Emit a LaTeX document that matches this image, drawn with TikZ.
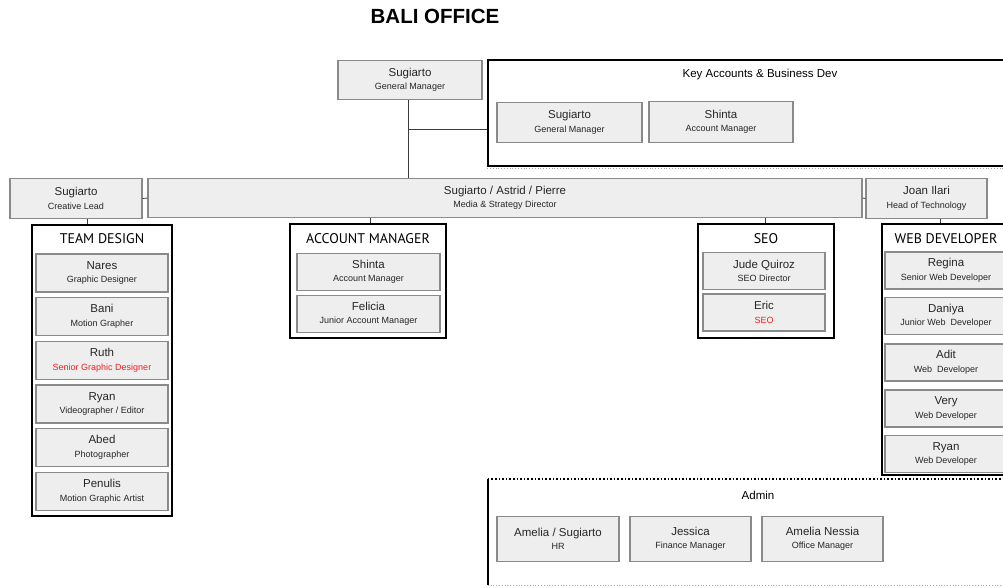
\documentclass[tikz,border=0pt]{standalone}
\usepackage{fontspec}
\setmainfont{Liberation Sans}
\newfontfamily\headfont{PT Sans}
\definecolor{boxfill}{HTML}{EEEEEE}
\definecolor{boxline}{HTML}{8A8A8A}
\definecolor{linkgray}{HTML}{3C3C3C}
\definecolor{rolered}{HTML}{FF1A1A}
\newcommand{\who}[2]{#1\\{\fontsize{9}{10}\selectfont #2}}
\tikzset{
  staff/.style={draw=boxline, fill=boxfill, line width=1.2pt, align=center,
    inner sep=0pt, text=black!85, font=\fontsize{11.5}{13.5}\selectfont},
  group/.style={draw=black, line width=1.6pt, inner sep=0pt},
  grouptitle/.style={font=\headfont\fontsize{14}{16}\selectfont},
  link/.style={draw=linkgray, line width=0.8pt},
  pagebreak/.style={draw=black!35, dotted, line width=0.8pt},
}
\begin{document}
\begin{tikzpicture}[x=1pt,y=-1pt]
   \useasboundingbox (0,0) rectangle (1003,587);
   \clip (0,0) rectangle (1003,587);
   \node[font=\bfseries\fontsize{20.5}{24}\selectfont] (title) at (435,16) {BALI OFFICE};

   % top
   \node[staff, minimum width=144pt, minimum height=39pt] (gm) at (410,80) {\who{Sugiarto}{General Manager}};
   \node[group, minimum width=544pt, minimum height=106pt] (keyacc) at (760,113) {};
   \node[font=\fontsize{11.5}{13.5}\selectfont] (keytitle) at (760,74.5) {Key Accounts \& Business Dev};
   \node[staff, minimum width=145pt, minimum height=40pt] (kgm) at (569.5,122.5) {\who{Sugiarto}{General Manager}};
   \node[staff, minimum width=144pt, minimum height=41pt] (kshinta) at (721,122) {\who{Shinta}{Account Manager}};
   \draw[pagebreak] ([yshift=-2pt]keyacc.south west) -- ([yshift=-2pt]keyacc.south east);

   % directors
   \node[staff, minimum width=132pt, minimum height=40pt] (creative) at (76,198.5) {\who{Sugiarto}{Creative Lead}};
   \node[staff, minimum width=714pt, minimum height=39.5pt] (media) at (505,198) {\who{Sugiarto / Astrid / Pierre}{Media \& Strategy Director}};
   \node[staff, minimum width=121pt, minimum height=40pt] (joan) at (926.5,198.5) {\who{Joan Ilari}{Head of Technology}};

   \coordinate (split) at (408,129);
   \draw[link] (gm.south -| split) -- (media.north -| split);
   \draw[link] (split) -- (split -| keyacc.west);
   \draw[link] (creative.east) -- (media.west);
   \draw[link] (media.east) -- (joan.west);

   % team design
   \node[group, minimum width=140pt, minimum height=291pt] (design) at (102,370.5) {};
   \node[grouptitle] (designtitle) at (102,239) {TEAM DESIGN};
   \node[staff, minimum width=132pt, minimum height=38pt] (nares) at (102,273) {\who{Nares}{Graphic Designer}};
   \node[staff, minimum width=132pt, minimum height=38pt] (bani) at (102,316.5) {\who{Bani}{Motion Grapher}};
   \node[staff, minimum width=132pt, minimum height=38pt] (ruth) at (102,360.5) {\who{Ruth}{\textcolor{rolered}{Senior Graphic Designer}}};
   \node[staff, minimum width=132pt, minimum height=38pt] (ryan) at (102,404) {\who{Ryan}{Videographer / Editor}};
   \node[staff, minimum width=132pt, minimum height=38pt] (abed) at (102,447.5) {\who{Abed}{Photographer}};
   \node[staff, minimum width=132pt, minimum height=38pt] (penulis) at (102,491.5) {\who{Penulis}{Motion Graphic Artist}};
   \draw[link] (design.north -| 87,0) -- (creative.south -| 87,0);

   % account manager
   \node[group, minimum width=156pt, minimum height=114pt] (accmgr) at (368,281) {};
   \node[grouptitle] (accmgrtitle) at (368,239) {ACCOUNT MANAGER};
   \node[staff, minimum width=143pt, minimum height=37pt] (shinta) at (368.5,272) {\who{Shinta}{Account Manager}};
   \node[staff, minimum width=143pt, minimum height=37pt] (felicia) at (368.5,314) {\who{Felicia}{Junior Account Manager}};
   \draw[link] (accmgr.north -| 370,0) -- (media.south -| 370,0);

   % seo
   \node[group, minimum width=136pt, minimum height=114pt] (seo) at (766,281) {};
   \node[grouptitle] (seotitle) at (766,239) {SEO};
   \node[staff, minimum width=122pt, minimum height=37pt] (jude) at (764,271) {\who{Jude Quiroz}{SEO Director}};
   \node[staff, minimum width=122pt, minimum height=37pt] (eric) at (764,312.5) {\who{Eric}{\textcolor{rolered}{SEO}}};
   \draw[link] (seo.north -| 765,0) -- (media.south -| 765,0);

   % web developer
   \node[group, minimum width=128pt, minimum height=251pt] (webdev) at (946,349.5) {};
   \node[grouptitle] (webdevtitle) at (946,239) {WEB DEVELOPER};
   \node[staff, minimum width=122pt, minimum height=37pt] (regina) at (946,270.5) {\who{Regina}{Senior Web Developer}};
   \node[staff, minimum width=122pt, minimum height=37pt] (daniya) at (946,316) {\who{Daniya}{Junior Web~ Developer}};
   \node[staff, minimum width=122pt, minimum height=37pt] (adit) at (946,362.5) {\who{Adit}{Web~ Developer}};
   \node[staff, minimum width=122pt, minimum height=37pt] (very) at (946,408.5) {\who{Very}{Web Developer}};
   \node[staff, minimum width=122pt, minimum height=37pt] (ryanweb) at (946,454) {\who{Ryan}{Web Developer}};
   \draw[link] (webdev.north -| 940,0) -- (joan.south -| 940,0);

   % admin
   \node[minimum width=544pt, minimum height=106pt, inner sep=0pt] (admin) at (760,532) {};
   \draw[group] (admin.north west) -- (admin.south west);
   \draw[draw=black, dotted, line width=1.6pt] (admin.north west) -- (admin.north east);
   \draw[pagebreak] (admin.south west) -- (admin.south east);
   \node[font=\fontsize{11.5}{13.5}\selectfont] (admintitle) at (758,495) {Admin};
   \node[staff, minimum width=122pt, minimum height=45pt] (hr) at (558,539) {\who{Amelia / Sugiarto}{HR}};
   \node[staff, minimum width=121pt, minimum height=45pt] (jessica) at (690.5,539) {\who{Jessica}{Finance Manager}};
   \node[staff, minimum width=121pt, minimum height=45pt] (nessia) at (822.5,539) {\who{Amelia Nessia}{Office Manager}};
\end{tikzpicture}
\end{document}
